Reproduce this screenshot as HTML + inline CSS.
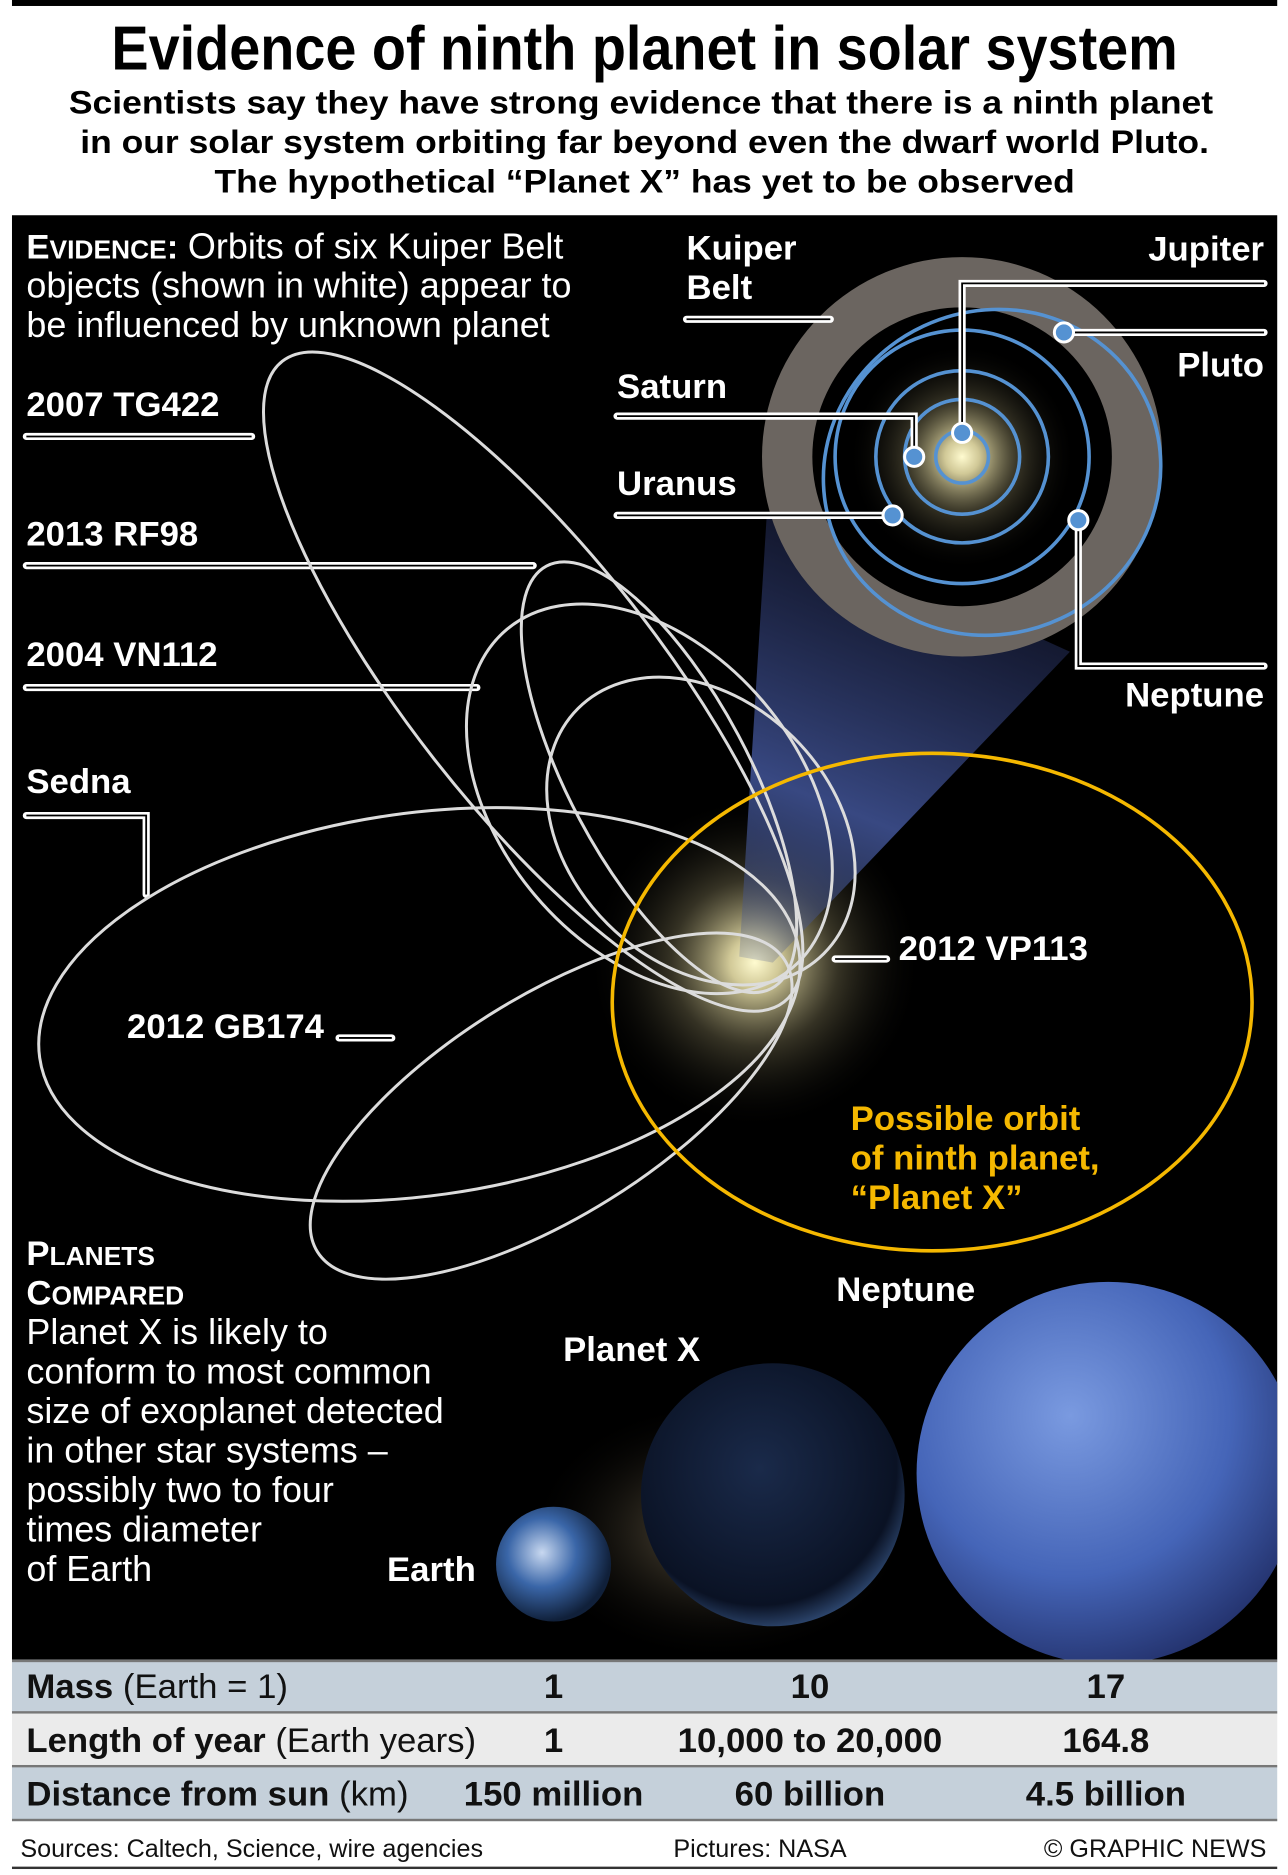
<!DOCTYPE html>
<html><head><meta charset="utf-8"><style>html,body{margin:0;padding:0;background:#fff}svg{display:block}</style></head>
<body>
<svg width="1288" height="1875" viewBox="0 0 1075 1568" preserveAspectRatio="none" xmlns="http://www.w3.org/2000/svg" font-family="'Liberation Sans Narrow','Liberation Sans',sans-serif">
<defs>
<radialGradient id="sun" cx="0.5" cy="0.5" r="0.5"><stop offset="0" stop-color="#fffbd0"/><stop offset="0.15" stop-color="#e8dfa8" stop-opacity="0.9"/><stop offset="0.5" stop-color="#6a6448" stop-opacity="0.5"/><stop offset="1" stop-color="#000" stop-opacity="0"/></radialGradient>
<linearGradient id="cone" x1="0" y1="1" x2="0.3" y2="0"><stop offset="0" stop-color="#4a5a90" stop-opacity="0.2"/><stop offset="0.4" stop-color="#3e5090" stop-opacity="0.9"/><stop offset="1" stop-color="#1a2040" stop-opacity="0.6"/></linearGradient>
<radialGradient id="nep" cx="0.4" cy="0.35" r="0.7"><stop offset="0" stop-color="#7a9ae0"/><stop offset="0.6" stop-color="#4565b8"/><stop offset="1" stop-color="#22306a"/></radialGradient>
<radialGradient id="px" cx="0.45" cy="0.4" r="0.65"><stop offset="0" stop-color="#1a2a4a"/><stop offset="0.8" stop-color="#0a1224"/><stop offset="1" stop-color="#3a5a8a"/></radialGradient>
<radialGradient id="earth" cx="0.4" cy="0.4" r="0.6"><stop offset="0" stop-color="#c8d8f0"/><stop offset="0.5" stop-color="#3a66a8"/><stop offset="1" stop-color="#10203a"/></radialGradient>
<radialGradient id="neb" cx="0.5" cy="0.5" r="0.5"><stop offset="0" stop-color="#9a8a6a" stop-opacity="0.7"/><stop offset="1" stop-color="#000" stop-opacity="0"/></radialGradient>
</defs>
<rect x="0" y="0" width="1075" height="1568" fill="#fff"/>
<rect x="10" y="0" width="1056" height="5" fill="#000"/>
<text x="538" y="58" text-anchor="middle" font-size="52" font-weight="bold" textLength="890" lengthAdjust="spacingAndGlyphs">Evidence of ninth planet in solar system</text>
<g font-family="'Liberation Sans',sans-serif" font-size="27" font-weight="bold" text-anchor="middle">
<text x="535" y="95" textLength="955" lengthAdjust="spacingAndGlyphs">Scientists say they have strong evidence that there is a ninth planet</text>
<text x="538" y="128" textLength="942" lengthAdjust="spacingAndGlyphs">in our solar system orbiting far beyond even the dwarf world Pluto.</text>
<text x="538" y="161" textLength="718" lengthAdjust="spacingAndGlyphs">The hypothetical “Planet X” has yet to be observed</text>
</g>
<rect x="10" y="180" width="1056" height="1208" fill="#000"/>
<circle cx="630" cy="805" r="140" fill="url(#sun)"/>
<polygon points="617,800 645,805 893,545 640,430" fill="url(#cone)"/>
<circle cx="803" cy="382" r="167" fill="#6b6560"/>
<circle cx="803" cy="382" r="125" fill="#000"/>
<circle cx="803" cy="382" r="95" fill="url(#sun)"/>
<g fill="none" stroke="#5592d2" stroke-width="3">
<circle cx="803" cy="382" r="22"/>
<circle cx="803" cy="382" r="48"/>
<circle cx="803" cy="382" r="72"/>
<circle cx="803" cy="382" r="106"/>
<ellipse cx="828" cy="395" rx="142" ry="135" transform="rotate(-25 828 395)"/>
</g>
<g fill="none" stroke-linejoin="miter">
<g stroke="#fff" stroke-width="6" stroke-linecap="round">
<polyline points="803,362 803,237 1055,237"/><polyline points="888,278 1055,278"/><polyline points="515,348 763,348 763,382"/><polyline points="515,431 745,431"/><polyline points="900,435 900,557 1055,557"/><polyline points="573,267 693,267"/>
<polyline points="22,365 210,365"/><polyline points="22,473 445,473"/><polyline points="22,575 398,575"/><polyline points="22,682 122,682 122,748"/><polyline points="283,868 327,868"/><polyline points="697,802 740,802"/>
</g>
<g stroke="#000" stroke-width="1.5">
<polyline points="803,362 803,237 1055,237"/><polyline points="888,278 1055,278"/><polyline points="515,348 763,348 763,382"/><polyline points="515,431 745,431"/><polyline points="900,435 900,557 1055,557"/><polyline points="573,267 693,267"/>
<polyline points="22,365 210,365"/><polyline points="22,473 445,473"/><polyline points="22,575 398,575"/><polyline points="22,682 122,682 122,748"/><polyline points="283,868 327,868"/><polyline points="697,802 740,802"/>
</g>
</g>
<g fill="#5592d2" stroke="#fff" stroke-width="2.5">
<circle cx="803" cy="362" r="8"/><circle cx="763" cy="382" r="8"/><circle cx="745" cy="431" r="8"/><circle cx="888" cy="278" r="8"/><circle cx="900" cy="435" r="8"/>
</g>
<g fill="none" stroke="#dcdcdc" stroke-width="2.5">
<ellipse cx="445" cy="570" rx="340" ry="105" transform="rotate(52 445 570)"/>
<ellipse cx="550" cy="650" rx="200" ry="75" transform="rotate(62 550 650)"/>
<ellipse cx="542" cy="668" rx="185" ry="125" transform="rotate(50 542 668)"/>
<ellipse cx="585" cy="695" rx="145" ry="110" transform="rotate(45 585 695)"/>
<ellipse cx="350" cy="840" rx="320" ry="160" transform="rotate(-8 350 840)"/>
<ellipse cx="460" cy="925" rx="230" ry="92" transform="rotate(-32 460 925)"/>
</g>
<ellipse cx="778" cy="838" rx="267" ry="208" fill="none" stroke="#f5b800" stroke-width="3"/>
<g fill="#fff" font-family="'Liberation Sans',sans-serif" font-size="29">
<text x="22" y="216"><tspan font-weight="bold">E<tspan font-size="22">VIDENCE</tspan>:</tspan> <tspan font-size="30">Orbits of six Kuiper Belt</tspan></text>
<text x="22" y="249" font-size="30">objects (shown in white) appear to</text>
<text x="22" y="282" font-size="30">be influenced by unknown planet</text>
<g font-weight="bold">
<text x="573" y="217">Kuiper</text><text x="573" y="250">Belt</text>
<text x="1055" y="218" text-anchor="end">Jupiter</text>
<text x="1055" y="315" text-anchor="end">Pluto</text>
<text x="515" y="333">Saturn</text>
<text x="515" y="414">Uranus</text>
<text x="1055" y="591" text-anchor="end">Neptune</text>
<text x="22" y="348">2007 TG422</text>
<text x="22" y="456">2013 RF98</text>
<text x="22" y="557">2004 VN112</text>
<text x="22" y="663">Sedna</text>
<text x="106" y="868">2012 GB174</text>
<text x="750" y="803">2012 VP113</text>
<g fill="#f5b800"><text x="710" y="945">Possible orbit</text><text x="710" y="978">of ninth planet,</text><text x="710" y="1011">“Planet X”</text></g>
<text x="22" y="1058">P<tspan font-size="22">LANETS</tspan></text>
<text x="22" y="1091">C<tspan font-size="22">OMPARED</tspan></text>
<text x="698" y="1088">Neptune</text>
<text x="470" y="1138">Planet X</text>
<text x="323" y="1322">Earth</text>
</g>
<g font-size="30">
<text x="22" y="1124">Planet X is likely to</text>
<text x="22" y="1157">conform to most common</text>
<text x="22" y="1190">size of exoplanet detected</text>
<text x="22" y="1223">in other star systems –</text>
<text x="22" y="1256">possibly two to four</text>
<text x="22" y="1289">times diameter</text>
<text x="22" y="1322">of Earth</text>
</g>
</g>
<ellipse cx="600" cy="1280" rx="160" ry="110" fill="url(#neb)"/>
<clipPath id="c"><rect x="10" y="180" width="1056" height="1208"/></clipPath>
<g clip-path="url(#c)">
<circle cx="925" cy="1232" r="160" fill="url(#nep)"/>
<circle cx="645" cy="1250" r="110" fill="url(#px)"/>
<circle cx="462" cy="1308" r="48" fill="url(#earth)"/>
</g>
<rect x="10" y="1388" width="1056" height="45" fill="#c5d0da"/>
<rect x="10" y="1433" width="1056" height="45" fill="#ebebeb"/>
<rect x="10" y="1478" width="1056" height="45" fill="#c5d0da"/>
<g fill="#777"><rect x="10" y="1388" width="1056" height="2"/><rect x="10" y="1431" width="1056" height="2"/><rect x="10" y="1476" width="1056" height="2"/><rect x="10" y="1521" width="1056" height="2"/></g>
<g font-size="29" fill="#111">
<text x="22" y="1420"><tspan font-weight="bold">Mass</tspan> (Earth = 1)</text>
<text x="22" y="1465"><tspan font-weight="bold">Length of year</tspan> (Earth years)</text>
<text x="22" y="1510"><tspan font-weight="bold">Distance from sun</tspan> (km)</text>
<g font-weight="bold" text-anchor="middle">
<text x="462" y="1420">1</text><text x="676" y="1420">10</text><text x="923" y="1420">17</text>
<text x="462" y="1465">1</text><text x="676" y="1465">10,000 to 20,000</text><text x="923" y="1465">164.8</text>
<text x="462" y="1510">150 million</text><text x="676" y="1510">60 billion</text><text x="923" y="1510">4.5 billion</text>
</g>
</g>
<g font-size="21" fill="#111">
<text x="17" y="1553">Sources: Caltech, Science, wire agencies</text>
<text x="562" y="1553">Pictures: NASA</text>
<text x="1057" y="1553" text-anchor="end">© GRAPHIC NEWS</text>
</g>
<rect x="10" y="1561" width="1056" height="2" fill="#333"/>
</svg>
</body></html>
